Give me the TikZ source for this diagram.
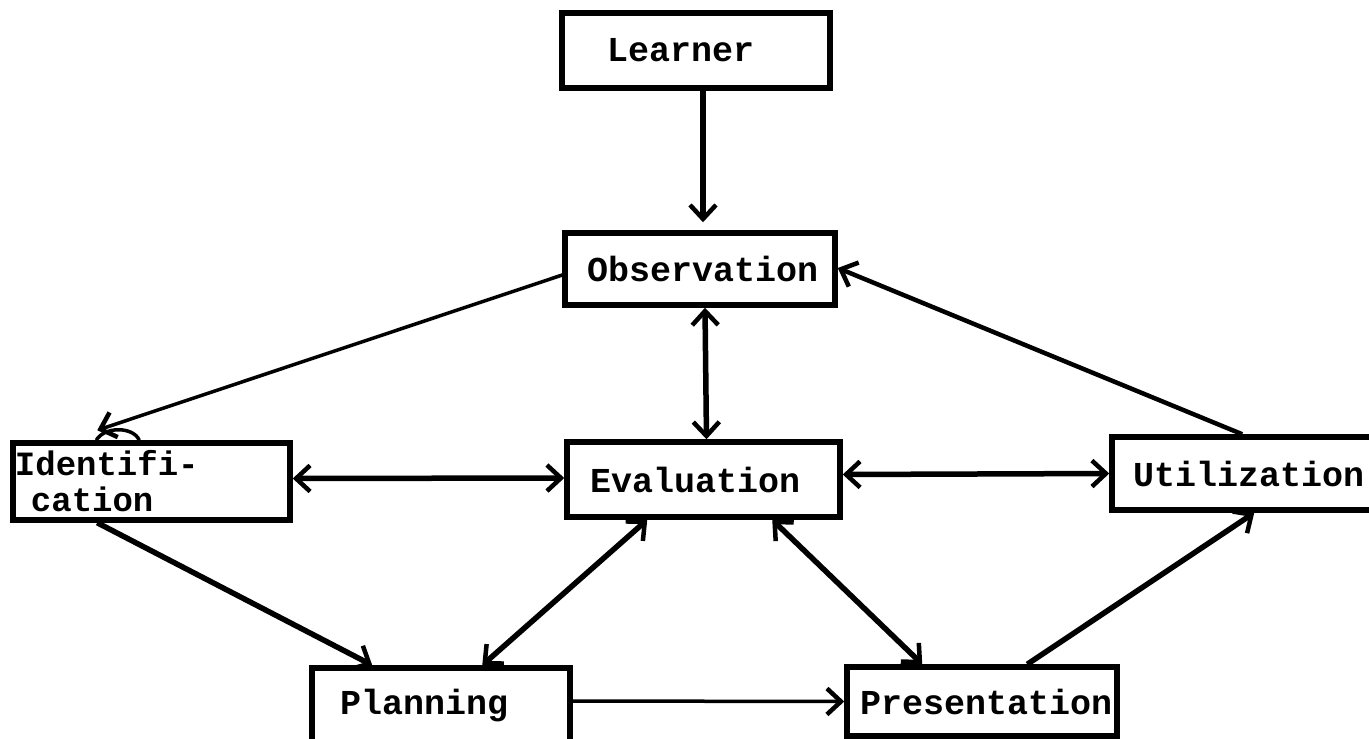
\documentclass[tikz,border=0pt]{standalone}
\usepackage{fontspec}
\setmonofont{Liberation Mono}
\usetikzlibrary{arrows.meta,calc}
\begin{document}
\begin{tikzpicture}[x=1pt,y=-1pt,
  hb/.tip={Straight Barb[length=14pt,width=26pt,line width=4.5pt]},
  box/.style={draw,line width=5.5pt,rectangle,align=left,inner ysep=0pt,
    font=\ttfamily\bfseries\fontsize{35}{31}\selectfont},
  conn/.style={line width=5.5pt,-hb},
  biconn/.style={line width=5.5pt,hb-hb},
  thinconn/.style={line width=3.5pt,-hb}
]
\useasboundingbox (0,0) rectangle (1369,739);
\node[box,minimum height=75pt,text width=178pt,inner xsep=45pt] (learner) at (696,50.5) {Learner};
\node[box,minimum height=72pt,text width=226pt,inner xsep=22pt] (obs) at (700,269) {Observation};
\node[box,minimum height=77pt,text width=273pt,inner xsep=2pt,
  font=\ttfamily\bfseries\fontsize{34}{36}\selectfont] (ident) at (151.5,481.5) {Identifi-\\\hspace*{16pt}cation};
\node[box,minimum height=75pt,text width=227pt,inner xsep=23pt] (eval) at (703.5,479.5) {Evaluation};
\node[box,minimum height=73pt,text width=221pt,inner xsep=21pt] (util) at (1243.5,473.5) {Utilization};
\node[box,minimum height=76pt,text width=202pt,inner xsep=28pt] (plan) at (441,706) {Planning};
\node[box,minimum height=69pt,text width=244pt,inner xsep=13pt] (pres) at (982,701.5) {Presentation};

% Learner -> Observation
\draw[conn,shorten >=8pt] ([xshift=7pt]learner.south) -- ([xshift=3pt]obs.north);
% Observation <-> Evaluation
\draw[biconn] ([xshift=5pt]obs.south) -- ([xshift=3pt]eval.north);
% Observation -> Identification
\draw[thinconn] ([yshift=-6pt]obs.west) -- ([xshift=87pt,yshift=10pt]ident.north west);
\draw[line width=3.5pt] ([xshift=86pt]ident.north west) .. controls +(8pt,14pt) and +(-6pt,14pt) .. ([xshift=129pt]ident.north west);
% Utilization -> Observation
\draw[conn,line width=4.5pt] ([xshift=133pt]util.north west) -- ([yshift=1pt]obs.east);
% Identification <-> Evaluation
\draw[biconn] ([yshift=3pt]ident.east) -- ([yshift=1.5pt]eval.west);
% Evaluation <-> Utilization
\draw[biconn] ([yshift=5pt]eval.east) -- (util.west);
% Identification -> Planning
\draw[conn] ([xshift=87pt]ident.south west) -- ([xshift=63pt]plan.north west);
% Evaluation <-> Planning
\draw[biconn] ([xshift=83pt]eval.south west) -- ([xshift=173pt]plan.north west);
% Evaluation <-> Presentation
\draw[biconn] ([xshift=208pt]eval.south west) -- ([xshift=78pt]pres.north west);
% Presentation -> Utilization
\draw[conn] ([xshift=183pt]pres.north west) -- ([xshift=145pt]util.south west);
% Planning -> Presentation
\draw[thinconn] ([yshift=5pt]plan.east) -- (pres.west);
\end{tikzpicture}
\end{document}
